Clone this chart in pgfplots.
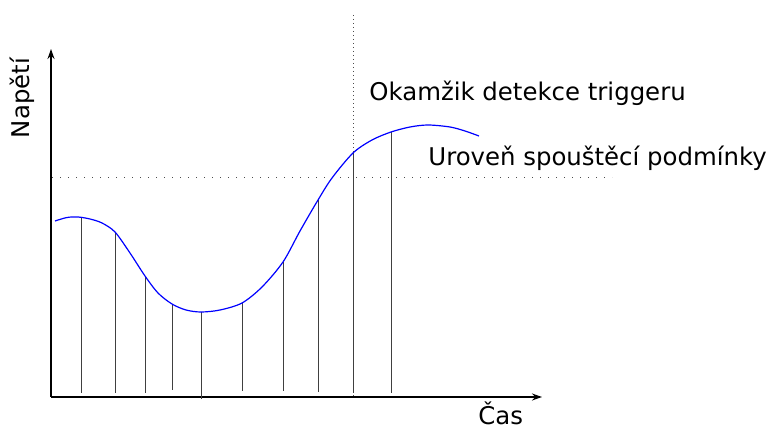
\documentclass[border=0pt]{standalone}
\usepackage{fontspec}
\setmainfont{DejaVu Sans}
\usepackage{pgfplots}
\pgfplotsset{compat=1.18}
\usetikzlibrary{arrows.meta}

% coordinates: x = pixel column, y = 426 - pixel row (1 px = 0.5bp)
\begin{document}
\begin{tikzpicture}
\path[use as bounding box] (0,0) rectangle (384bp,213bp);
\begin{axis}[
  at={(0,0)}, anchor=south west,
  scale only axis, width=384bp, height=213bp,
  xmin=0, xmax=768, ymin=0, ymax=426,
  hide axis, clip=false,
  unbounded coords=jump,
]
% axes
\addplot[black, line width=0.65bp, -{Stealth[length=5bp,width=3.5bp]}] coordinates {(51,29)(51,377)};
\addplot[black, line width=0.65bp, -{Stealth[length=5bp,width=3.5bp]}] coordinates {(51,29)(542,29)};
% trigger level and trigger instant
\addplot[black!70, line width=0.5bp, dash pattern=on 0.5bp off 3.5bp] coordinates {(52,248)(612,248)};
\addplot[black!70, line width=0.5bp, dash pattern=on 0.5bp off 1.5bp] coordinates {(353,411)(353,29)};
% samples
\addplot[black!75, line width=0.5bp] coordinates {
  (81,33)(81,209) (81,nan)
  (115,33)(115,194) (115,nan)
  (145,33)(145,150) (145,nan)
  (172,36)(172,122) (172,nan)
  (201,27)(201,114) (201,nan)
  (242,35)(242,123) (242,nan)
  (283,35)(283,164) (283,nan)
  (318,34)(318,226) (318,nan)
  (353,33)(353,273) (353,nan)
  (391,33)(391,294)
};
% signal
\addplot[blue, line width=0.6bp, smooth] coordinates {
  (55,205)(67,208.5)(78,209)(90,207)(102,203)(115,194)(130,173)(145,150)
  (158,133)(172,122)(186,116)(201,114)(220,116)(242,123)(262,139)(283,164)
  (300,195)(318,226)(332,248)(353,273)(372,286)(391,294)(410,299)(428,301)
  (450,299)(465,295)(479,290)
};
\node[anchor=base west, font=\fontsize{12.2bp}{14bp}\selectfont, inner sep=0pt] at (axis cs:369,325) {Okamžik detekce triggeru};
\node[anchor=base west, font=\fontsize{12.2bp}{14bp}\selectfont, inner sep=0pt] at (axis cs:428,260) {Uroveň spouštěcí podmínky};
\node[rotate=90, anchor=center, font=\fontsize{12.2bp}{14bp}\selectfont, inner sep=0pt] at (axis cs:22,328) {Napětí};
\node[anchor=base west, font=\fontsize{12.2bp}{14bp}\selectfont, inner sep=0pt] at (axis cs:478,2) {Čas};
\end{axis}
\end{tikzpicture}
\end{document}
